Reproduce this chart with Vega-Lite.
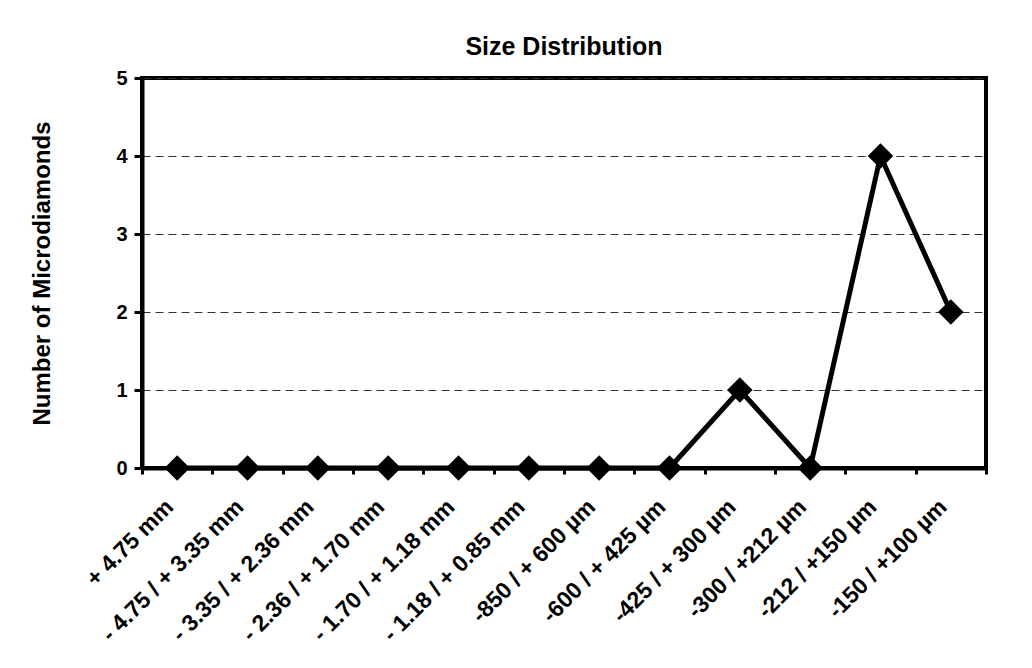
{
  "$schema": "https://vega.github.io/schema/vega-lite/v6.json",
  "autosize": {"type": "none"},
  "padding": {"left": 142, "top": 78, "right": 46, "bottom": 200},
  "width": 844,
  "height": 390,
  "background": "white",
  "title": {
    "text": "Size Distribution",
    "font": "Liberation Sans",
    "fontSize": 25,
    "fontWeight": "bold",
    "color": "black",
    "anchor": "middle",
    "offset": 8
  },
  "config": {
    "view": {"stroke": "black", "strokeWidth": 4},
    "axis": {
      "labelFont": "Liberation Sans",
      "titleFont": "Liberation Sans",
      "labelColor": "black",
      "titleColor": "black",
      "labelFontWeight": "bold",
      "titleFontWeight": "bold",
      "domainColor": "black",
      "domainWidth": 4,
      "tickColor": "black",
      "tickWidth": 3
    }
  },
  "data": {
    "values": [
      {"size": "+ 4.75 mm", "count": 0},
      {"size": "- 4.75 / + 3.35 mm", "count": 0},
      {"size": "- 3.35 / + 2.36 mm", "count": 0},
      {"size": "- 2.36 / + 1.70 mm", "count": 0},
      {"size": "- 1.70 / + 1.18 mm", "count": 0},
      {"size": "- 1.18 / + 0.85 mm", "count": 0},
      {"size": "-850 / + 600 µm", "count": 0},
      {"size": "-600 / + 425 µm", "count": 0},
      {"size": "-425 / + 300 µm", "count": 1},
      {"size": "-300 / +212 µm", "count": 0},
      {"size": "-212 / +150 µm", "count": 4},
      {"size": "-150 / +100 µm", "count": 2}
    ]
  },
  "mark": {
    "type": "line",
    "color": "black",
    "strokeWidth": 5,
    "point": {"shape": "diamond", "size": 650, "filled": true, "color": "black"}
  },
  "encoding": {
    "x": {
      "field": "size",
      "type": "ordinal",
      "sort": null,
      "scale": {"type": "band", "paddingInner": 0, "paddingOuter": 0},
      "axis": {
        "title": null,
        "labelAngle": -45,
        "labelAlign": "right",
        "labelBaseline": "middle",
        "labelFontSize": 23,
        "labelPadding": 29,
        "labelOffset": -8,
        "tickSize": 6,
        "tickBand": "extent",
        "grid": false,
        "labelOverlap": false,
        "labelLimit": 400
      }
    },
    "y": {
      "field": "count",
      "type": "quantitative",
      "scale": {"domain": [0, 5], "nice": false},
      "axis": {
        "title": "Number of Microdiamonds",
        "titleFontSize": 24,
        "titlePadding": 61,
        "labelFontSize": 20,
        "labelPadding": 7,
        "tickSize": 8,
        "values": [0, 1, 2, 3, 4, 5],
        "grid": true,
        "gridColor": "#333333",
        "gridDash": [8, 5],
        "gridWidth": 1
      }
    }
  }
}
